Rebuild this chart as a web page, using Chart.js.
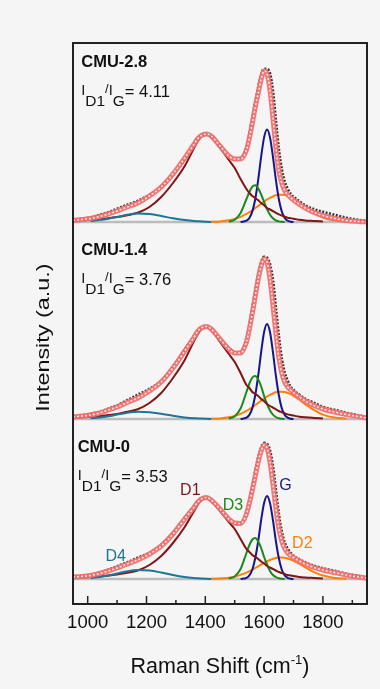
<!DOCTYPE html>
<html>
<head>
<meta charset="utf-8">
<script src="https://cdn.jsdelivr.net/npm/chart.js@4"></script>
<style>
  html, body { margin: 0; padding: 0; background: #f5f5f5; }
  #wrap { width: 380px; height: 689px; }
</style>
</head>
<body>
<div id="wrap"><canvas id="myChart"></canvas></div>
<script>
// Raman shift grid (cm-1) shared by every trace
const wavenumber = [950, 980, 1010, 1040, 1070, 1100, 1130, 1170, 1210, 1250, 1290, 1330, 1360, 1375, 1390, 1405, 1420, 1450,
  1480, 1500, 1520, 1540, 1550, 1560, 1570, 1580, 1590, 1600, 1610, 1620, 1630, 1640, 1650, 1660, 1670, 1680, 1690, 1700,
  1720, 1740, 1770, 1800, 1840, 1880, 1920, 1950];

const tickValues = [1000, 1100, 1200, 1300, 1400, 1500, 1600, 1700, 1800, 1900];
const samples = ['CMU-2.8', 'CMU-1.4', 'CMU-0'];
const ratios = ['4.11', '3.76', '3.53'];
const peakNames = ['D4', 'D1', 'D3', 'G', 'D2'];

// CMU-2.8
const cmu28_data = [2, 3, 4.5, 7, 9.5, 13, 16.5, 21, 27, 35, 47, 63, 77, 84, 87.5, 88, 86, 76,
  66, 63, 64, 74, 87, 103, 119, 134, 147, 153, 153, 148, 130, 100, 72, 52, 40, 33, 28, 25,
  20.5, 16.5, 12.5, 10, 7, 4, 2, 1];
const cmu28_fit = [1.5, 2.5, 3.5, 5.5, 8, 11, 14.5, 19, 26, 35, 48, 64, 77, 83.5, 87, 88, 86, 76,
  66, 63, 63, 72, 84, 99, 115, 129, 143, 151, 148, 132, 104, 75, 52, 39, 31.5, 27.5, 24.5, 22,
  17.5, 14, 9.5, 6.5, 3.5, 1.5, 0.5, 0];
const cmu28_D4 = [null, null, 0.9, 1.9, 3.3, 5.1, 7, 8.4, 7.9, 6, 3.7, 1.9, 0.9, 0.7, 0.5, 0.2, 0, null,
  null, null, null, null, null, null, null, null, null, null, null, null, null, null, null, null, null, null, null, null,
  null, null, null, null, null, null, null, null];
const cmu28_D1 = [1, 1.6, 2.2, 2.7, 3.8, 4.9, 6.5, 9.2, 15, 25, 39, 56, 73, 81, 86.5, 87.5, 85, 74,
  62, 54, 43, 33, 29, 26, 24, 21.7, 19, 16.8, 14, 12.5, 10.9, 9.2, 7.6, 6.5, 5.4, 4.3, 3.8, 3.3,
  2.2, 1.6, 1.1, 0.5, null, null, null, null];
const cmu28_D3 = [null, null, null, null, null, null, null, null, null, null, null, null, null, null, null, null, null, null,
  0.4, 2.3, 9, 23, 30, 35.4, 36.7, 33.6, 27.5, 20, 12.9, 7.3, 3.8, 1.7, 0.6, 0.2, 0, null, null, null,
  null, null, null, null, null, null, null, null];
const cmu28_G = [null, null, null, null, null, null, null, null, null, null, null, null, null, null, null, null, null, null,
  null, null, 0, 1.3, 4, 10.6, 23, 42.3, 65.3, 84.6, 92.4, 84.6, 65.3, 42.3, 23, 10.6, 4, 1.3, 0.3, 0,
  null, null, null, null, null, null, null, null];
const cmu28_D2 = [null, null, null, null, null, null, null, null, null, null, null, null, null, null, null, null, 0.2, 0.6,
  1.7, 3, 5.2, 8.1, 9.9, 11.8, 14, 16.1, 18.3, 20.4, 22.5, 24.1, 25.5, 26.7, 27.2, 27.3, 26.9, 26, 24.8, 23.1,
  19.2, 14.9, 8.8, 4.4, 1.4, 0.4, null, null];

// CMU-1.4
const cmu14_data = [2.5, 3.5, 5, 7, 10, 13.5, 18, 24, 30, 38, 52, 69, 82, 88.5, 92, 92.5, 90, 80,
  70, 66, 67, 79, 93, 110, 127, 144, 156, 162, 161, 154, 138, 110, 82, 60, 46, 38, 32, 29,
  24, 20, 16, 12, 9, 6, 3.5, 1.5];
const cmu14_fit = [2, 3, 4, 6, 9, 12, 16, 21, 28, 37, 51, 68, 81, 88, 91.5, 92.5, 90, 80,
  70, 66, 66, 77, 90, 106, 123, 140, 153, 160, 157, 140, 114, 86, 62, 46, 37, 32, 29, 26.5,
  22, 18, 13.5, 10, 7, 4.5, 2.5, 1];
const cmu14_D4 = [null, null, 0.8, 1.6, 2.8, 4.4, 6, 7.2, 6.8, 5.2, 3.2, 1.6, 0.8, 0.6, 0.4, 0.2, 0, null,
  null, null, null, null, null, null, null, null, null, null, null, null, null, null, null, null, null, null, null, null,
  null, null, null, null, null, null, null, null];
const cmu14_D1 = [1, 1.7, 2.3, 2.9, 4, 5, 7, 9.7, 16, 26, 41, 59, 77, 85, 90.5, 91.5, 89, 77,
  65, 57, 46, 34, 31, 27, 25, 23, 20, 17.7, 15, 13, 11.4, 9.7, 8, 6.8, 5.7, 4.6, 4, 3.4,
  2.3, 1.7, 1.1, 0.6, null, null, null, null];
const cmu14_D3 = [null, null, null, null, null, null, null, null, null, null, null, null, null, null, null, null, null, null,
  0.4, 2.7, 10.5, 27, 35.5, 41.5, 43, 39.5, 32.5, 23, 15, 8.6, 4.4, 2, 0.7, 0.2, 0, null, null, null,
  null, null, null, null, null, null, null, null];
const cmu14_G = [null, null, null, null, null, null, null, null, null, null, null, null, null, null, null, null, null, null,
  null, null, 0, 1.4, 4.1, 10.9, 24, 43.5, 67, 87, 95, 87, 67, 43.5, 24, 10.9, 4.1, 1.4, 0.3, 0,
  null, null, null, null, null, null, null, null];
const cmu14_D2 = [null, null, null, null, null, null, null, null, null, null, null, null, null, null, null, null, 0.2, 0.6,
  1.7, 3, 5.2, 8.1, 9.9, 11.8, 14, 16.1, 18.3, 20.4, 22.5, 24.1, 25.5, 26.7, 27.2, 27.3, 26.9, 26, 24.8, 23.1,
  19.2, 14.9, 8.8, 4.4, 1.4, 0.4, null, null];

// CMU-0
const cmu0_data = [2, 3, 4, 6, 9, 12.5, 16, 21, 26, 34, 46, 61, 72, 78, 81, 81.5, 79, 70,
  60, 55.5, 56, 66, 78, 92, 107, 121, 131, 136, 135, 128, 112, 88, 64, 47, 36, 30, 26, 23,
  19.5, 16.5, 13, 10.5, 8, 5, 3, 1.5];
const cmu0_fit = [2, 2.5, 3.5, 5.5, 8, 11, 14.5, 19, 25, 33, 45, 60, 71, 77, 80.5, 81.5, 79, 70,
  60, 56, 55.5, 65, 76, 89, 103, 117, 128, 134, 131, 117, 95, 71, 51, 38, 30.5, 26, 23.5, 21.5,
  18, 15, 11.5, 9, 6.5, 4, 2, 1];
const cmu0_D4 = [null, null, 1, 2, 3.5, 5.5, 7.5, 9, 8.5, 6.5, 4, 2, 1, 0.7, 0.5, 0.2, 0, null,
  null, null, null, null, null, null, null, null, null, null, null, null, null, null, null, null, null, null, null, null,
  null, null, null, null, null, null, null, null];
const cmu0_D1 = [1, 1.5, 2, 2.5, 3.5, 4.5, 6, 8.5, 14, 23, 36, 52, 67, 74.5, 79.5, 80.5, 78, 68,
  57, 50, 40, 30, 27, 24, 22, 20, 17.5, 15.5, 13, 11.5, 10, 8.5, 7, 6, 5, 4, 3.5, 3,
  2, 1.5, 1, 0.5, null, null, null, null];
const cmu0_D3 = [null, null, null, null, null, null, null, null, null, null, null, null, null, null, null, null, null, null,
  0.4, 2.6, 10, 26, 34, 39.5, 41, 37.5, 31, 22, 14.5, 8, 4, 2, 0.7, 0.2, 0, null, null, null,
  null, null, null, null, null, null, null, null];
const cmu0_G = [null, null, null, null, null, null, null, null, null, null, null, null, null, null, null, null, null, null,
  null, null, 0, 1.2, 3.6, 9.5, 21, 38, 59, 76, 83, 76, 59, 38, 21, 9.5, 3.6, 1.2, 0.3, 0,
  null, null, null, null, null, null, null, null];
const cmu0_D2 = [null, null, null, null, null, null, null, null, null, null, null, null, null, null, null, null, 0.2, 0.5,
  1.3, 2.4, 4.1, 6.4, 7.8, 9.3, 11, 12.7, 14.4, 16.1, 17.7, 19, 20.1, 21, 21.4, 21.5, 21.2, 20.5, 19.5, 18.2,
  15.1, 11.7, 6.9, 3.5, 1.1, 0.3, null, null];

const baselineLevel = [0, 0];

// stacking: where each sample's zero sits on the shared intensity axis
const offsets = [382, 185, 25];

const FONT = "'Liberation Sans', Arial, sans-serif";
const peakColors = {D4: '#1d7694', D1: '#7e1616', D3: '#1c881c', G: '#16168a', D2: '#ff8008'};
const traces = [
  {data: cmu28_data, fit: cmu28_fit, peaks: [cmu28_D4, cmu28_D1, cmu28_D3, cmu28_G, cmu28_D2]},
  {data: cmu14_data, fit: cmu14_fit, peaks: [cmu14_D4, cmu14_D1, cmu14_D3, cmu14_G, cmu14_D2]},
  {data: cmu0_data, fit: cmu0_fit, peaks: [cmu0_D4, cmu0_D1, cmu0_D3, cmu0_G, cmu0_D2]}
];

function pts(vals, off) {
  return vals.map((v, i) => ({x: wavenumber[i], y: v === null ? null : v + off}));
}

const datasets = [];
traces.forEach((t, k) => {
  const off = offsets[k];
  datasets.push({
    label: samples[k] + ' baseline',
    data: [{x: wavenumber[0], y: baselineLevel[0] + off}, {x: wavenumber[wavenumber.length - 1], y: baselineLevel[1] + off}],
    borderColor: '#bcbcbc', borderWidth: 2.5, order: 6
  });
  datasets.push({
    label: samples[k] + ' data', data: pts(t.data, off),
    borderColor: '#3a3a3a', borderWidth: 3, borderDash: [2, 1.5], order: 5
  });
  t.peaks.forEach((p, j) => {
    datasets.push({
      label: samples[k] + ' ' + peakNames[j], data: pts(p, off),
      borderColor: peakColors[peakNames[j]], borderWidth: 2, order: 3
    });
  });
  datasets.push({
    label: samples[k] + ' fit', data: pts(t.fit, off),
    borderColor: 'rgba(240,112,112,0.95)', borderWidth: 5, order: 2
  });
  datasets.push({
    label: samples[k] + ' fit core', data: pts(t.fit, off),
    borderColor: 'rgba(255,232,232,0.95)', borderWidth: 1.6, borderDash: [2, 2], order: 1
  });
});

const peakLabels = [
  {t: 'D4', x: 1095, y: 18}, {t: 'D1', x: 1349, y: 84}, {t: 'D3', x: 1494, y: 69},
  {t: 'G', x: 1673, y: 89}, {t: 'D2', x: 1730, y: 31}
];

const decor = {
  id: 'decor',
  beforeDraw(chart) {
    const c = chart.ctx;
    c.save();
    c.fillStyle = '#f5f5f5';
    c.fillRect(0, 0, chart.width, chart.height);
    c.restore();
  },
  afterDraw(chart) {
    const {ctx, chartArea: a, scales: {x, y}} = chart;
    ctx.save();
    ctx.strokeStyle = '#222';
    ctx.lineWidth = 2;
    ctx.strokeRect(a.left, a.top, a.right - a.left, a.bottom - a.top);

    // inward ticks, long ones at labelled values
    ctx.lineWidth = 1.5;
    x.ticks.forEach(t => {
      const px = x.getPixelForValue(t.value);
      const len = t.value % 200 === 0 ? 8 : 4;
      ctx.beginPath();
      ctx.moveTo(px, a.bottom);
      ctx.lineTo(px, a.bottom - len);
      ctx.stroke();
    });

    // sample names + ID1/IG
    ctx.fillStyle = '#111';
    ctx.textBaseline = 'alphabetic';
    ctx.textAlign = 'left';
    const nameY = [537, 349, 152];
    const ratioY = [507, 319, 122];
    const leftX = [978, 978, 966];
    samples.forEach((s, k) => {
      ctx.font = 'bold 16.5px ' + FONT;
      ctx.fillText(s, x.getPixelForValue(leftX[k]), y.getPixelForValue(nameY[k]));
      let cx = x.getPixelForValue(leftX[k]);
      const py = y.getPixelForValue(ratioY[k]);
      const part = (str, size, dy) => {
        ctx.font = size + 'px ' + FONT;
        ctx.fillText(str, cx, py + dy);
        cx += ctx.measureText(str).width;
      };
      part('I', 14.5, -2);
      part('D1', 15.5, 8.5);
      part('/', 13, -4);
      part('I', 14.5, -2);
      part('G', 15.5, 8.5);
      part('= ' + ratios[k], 16.5, 0);
    });

    // peak names on the bottom trace
    ctx.textAlign = 'center';
    ctx.font = '16px ' + FONT;
    peakLabels.forEach(l => {
      ctx.fillStyle = peakColors[l.t];
      ctx.fillText(l.t, x.getPixelForValue(l.x), y.getPixelForValue(l.y + offsets[2]));
    });

    // axis titles
    ctx.fillStyle = '#111';
    ctx.textAlign = 'left';
    const main = 'Raman Shift (cm';
    ctx.font = '21.5px ' + FONT;
    const w1 = ctx.measureText(main).width;
    const w3 = ctx.measureText(')').width;
    ctx.font = '13px ' + FONT;
    const w2 = ctx.measureText('-1').width;
    let tx = (a.left + a.right) / 2 - (w1 + w2 + w3) / 2;
    const ty = a.bottom + 69;
    ctx.font = '21.5px ' + FONT;
    ctx.fillText(main, tx, ty);
    ctx.font = '13px ' + FONT;
    ctx.fillText('-1', tx + w1, ty - 9);
    ctx.font = '21.5px ' + FONT;
    ctx.fillText(')', tx + w1 + w2, ty);

    ctx.translate(a.left - 29, (a.top + a.bottom) / 2 + 14);
    ctx.rotate(-Math.PI / 2);
    ctx.scale(1.3, 1);
    ctx.textAlign = 'center';
    ctx.textBaseline = 'middle';
    ctx.font = '18px ' + FONT;
    ctx.fillText('Intensity (a.u.)', 0, 0);
    ctx.restore();
  }
};

new Chart(document.getElementById('myChart'), {
  type: 'line',
  data: {datasets: datasets},
  options: {
    responsive: true,
    maintainAspectRatio: false,
    animation: false,
    events: [],
    spanGaps: false,
    layout: {padding: {left: 73, right: 13, top: 43, bottom: 0}},
    elements: {
      point: {radius: 0},
      line: {cubicInterpolationMode: 'monotone', fill: false}
    },
    plugins: {legend: {display: false}, tooltip: {enabled: false}},
    scales: {
      x: {
        type: 'linear',
        min: 950,
        max: 1950,
        afterBuildTicks(scale) { scale.ticks = tickValues.map(v => ({value: v})); },
        afterFit(scale) { scale.height = 85; },
        grid: {display: false, drawTicks: false, tickLength: 0},
        border: {display: false},
        ticks: {
          autoSkip: false,
          maxRotation: 0,
          padding: 8,
          color: '#111',
          font: {family: FONT, size: 18.5},
          callback: v => (v % 200 === 0 ? String(v) : '')
        }
      },
      y: {display: false, min: 0, max: 561}
    }
  },
  plugins: [decor]
});
</script>
</body>
</html>
